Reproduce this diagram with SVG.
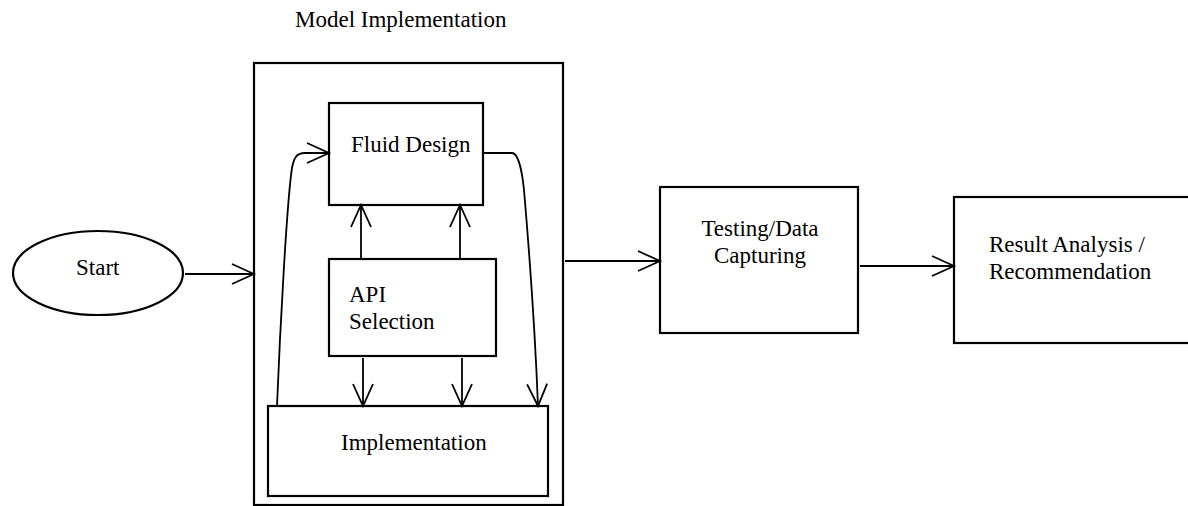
<svg xmlns="http://www.w3.org/2000/svg" width="1188" height="506" viewBox="0 0 1188 506">
<style>
.box{fill:#fff;stroke:#000;stroke-width:2.2}
.lbl{font-family:"Liberation Serif","Times New Roman",serif;font-size:23px;fill:#000}
.con{fill:none;stroke:#000;stroke-width:1.8}
</style>
<defs>
<marker id="arr" markerUnits="userSpaceOnUse" markerWidth="26" markerHeight="24" refX="22" refY="10" orient="auto" overflow="visible">
<path d="M0,0 L22,10 L0,20" fill="none" stroke="#000" stroke-width="1.8"/>
</marker>
</defs>
<rect width="1188" height="506" fill="#fff"/>
<g id="model-implementation">
<rect class="box" x="254" y="63" width="309" height="442"/>
<text class="lbl" x="295" y="27">Model Implementation</text>
</g>
<g id="start">
<ellipse class="box" cx="98" cy="273" rx="85" ry="42"/>
<text class="lbl" x="76" y="275">Start</text>
</g>
<g id="fluid-design">
<rect class="box" x="329" y="103" width="154" height="102"/>
<text class="lbl" x="351" y="152">Fluid Design</text>
</g>
<g id="api-selection">
<rect class="box" x="329" y="259" width="167" height="97"/>
<text class="lbl" x="349" y="302">API</text>
<text class="lbl" x="349" y="329">Selection</text>
</g>
<g id="implementation">
<rect class="box" x="268" y="406" width="280" height="90"/>
<text class="lbl" x="341" y="450">Implementation</text>
</g>
<g id="testing">
<rect class="box" x="660" y="187" width="198" height="146"/>
<text class="lbl" x="760" y="236" text-anchor="middle">Testing/Data</text>
<text class="lbl" x="760" y="263" text-anchor="middle">Capturing</text>
</g>
<g id="result">
<rect class="box" x="954" y="197" width="250" height="146"/>
<text class="lbl" x="989" y="252">Result Analysis /</text>
<text class="lbl" x="989" y="279">Recommendation</text>
</g>
<g id="connectors">
<path class="con" d="M185,274 L254,274" marker-end="url(#arr)"/>
<path class="con" d="M565,261 L660,261" marker-end="url(#arr)"/>
<path class="con" d="M860,266 L954,266" marker-end="url(#arr)"/>
<path class="con" d="M361,259 L361,205" marker-end="url(#arr)"/>
<path class="con" d="M460,259 L460,205" marker-end="url(#arr)"/>
<path class="con" d="M363,358 L363,406" marker-end="url(#arr)"/>
<path class="con" d="M462,358 L462,406" marker-end="url(#arr)"/>
<path class="con" d="M277,406 C280,330 287,200 292,168 C294,157 297,153 305,153 L329,153" marker-end="url(#arr)"/>
<path class="con" d="M483,153 L512,153 C518,153 522,170 524,190 C530,260 535,330 538,406" marker-end="url(#arr)"/>
</g>
</svg>
